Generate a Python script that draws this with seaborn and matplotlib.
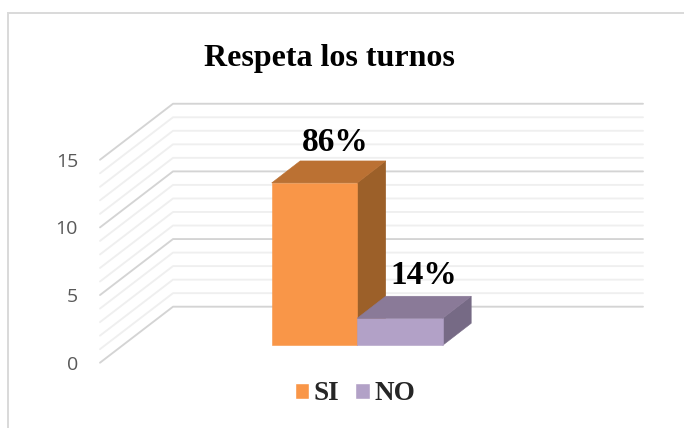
import matplotlib
matplotlib.use("Agg")
import matplotlib.pyplot as plt
from matplotlib.patches import Polygon, Rectangle
import pandas as pd
import seaborn as sns

title = "Respeta los turnos"
categories = ["SI", "NO"]
values = [12, 2]
percent_labels = ["86%", "14%"]
y_ticks = [0, 5, 10, 15]
colors_front = ["#F99648", "#B2A1C7"]
colors_side = ["#9C6029", "#766A85"]
colors_top = ["#BB7133", "#8A7A98"]

W, H = 684, 428
sns.set_theme(style="white")
plt.rcParams["font.family"] = ["DejaVu Sans"]
fig = plt.figure(figsize=(W / 100, H / 100), dpi=100, facecolor="white")

PX_UNIT = 13.53


def rect(x0, ytop, x1, ybot):
    return [x0 / W, 1 - ybot / H, (x1 - x0) / W, (ybot - ytop) / H]


# outer chart frame
fig.add_artist(Rectangle((8.3 / W, -0.05), 1.1, 1.05 - 13.5 / H, transform=fig.transFigure,
                         fill=False, ec="#D9D9D9", lw=1.4))

# back wall with real value axis
wall = fig.add_axes(rect(100, 104, 643, 362.7))
wall.set_xlim(0, 1)
wall.set_ylim(0, (362.7 - 104) / PX_UNIT)
wall.patch.set_visible(False)
sns.despine(ax=wall, left=True, bottom=True)
back_x = 73 / 543
rise = 56 / PX_UNIT
for v in range(0, 16):
    major = v % 5 == 0
    wall.plot([0, back_x, 1], [v, v + rise, v + rise], clip_on=False,
              color="#D4D4D4" if major else "#EFEFEF", lw=1.35, zorder=1 if major else 0.5)
wall.set_xticks([])
wall.set_yticks(y_ticks)
wall.set_yticklabels([str(t) for t in y_ticks], family="Open Sans", fontsize=14, color="#595959")
wall.tick_params(axis="y", length=0, pad=15.8)

# bars, one pixel-scaled full-figure axes
ax = fig.add_axes([0, 0, 1, 1])
df = pd.DataFrame({"cat": categories, "val": values})
sns.barplot(data=df, x="cat", y="val", hue="cat", hue_order=categories, palette=colors_front,
            width=1, dodge=False, saturation=1, ax=ax, legend=True)
px_x = 85.5
x_left = -0.5 - 271.7 / px_x
ax.set_xlim(x_left, x_left + W / px_x)
y_bot = -(H - 345.3) / PX_UNIT
ax.set_ylim(y_bot, y_bot + H / PX_UNIT)
ax.axis("off")

dx = 28.5 / px_x
dy = 22 / PX_UNIT
bars = [p for p in ax.patches if p.get_height() > 0]
offsets = [(21, 40), (24, 43)]
for i, (bar, label, off) in enumerate(zip(bars, percent_labels, offsets)):
    x0, w, h = bar.get_x(), bar.get_width(), bar.get_height()
    bar.set_zorder(3 + 2 * i)
    bar.set_edgecolor(colors_front[i])
    bar.set_linewidth(0.4)
    ax.add_patch(Polygon([(x0 + w, 0), (x0 + w + dx, dy), (x0 + w + dx, h + dy), (x0 + w, h)],
                         fc=colors_side[i], ec=colors_side[i], lw=0.4, zorder=2 + 2 * i))
    ax.add_patch(Polygon([(x0, h), (x0 + dx, h + dy), (x0 + w + dx, h + dy), (x0 + w, h)],
                         fc=colors_top[i], ec=colors_top[i], lw=0.4, zorder=3 + 2 * i))
    ax.annotate(label, xy=(x0 + w / 2, h), xytext=off, textcoords="offset pixels",
                ha="center", va="center", family="Liberation Serif", weight="bold",
                fontsize=24, color="black", zorder=10)

ax.set_title(title, x=329.5 / W, y=1 - 58.5 / H, va="center", family="Liberation Serif",
             weight="bold", fontsize=23, color="black", pad=0)

sns.move_legend(ax, "center", bbox_to_anchor=(355 / W, 1 - 394 / H), ncol=2, frameon=False,
                title=None, prop={"family": "Liberation Serif", "weight": "bold", "size": 19.5},
                handlelength=0.52, handleheight=0.52, handletextpad=0.18, columnspacing=0.6)

fig.savefig("out.png", dpi=100)
